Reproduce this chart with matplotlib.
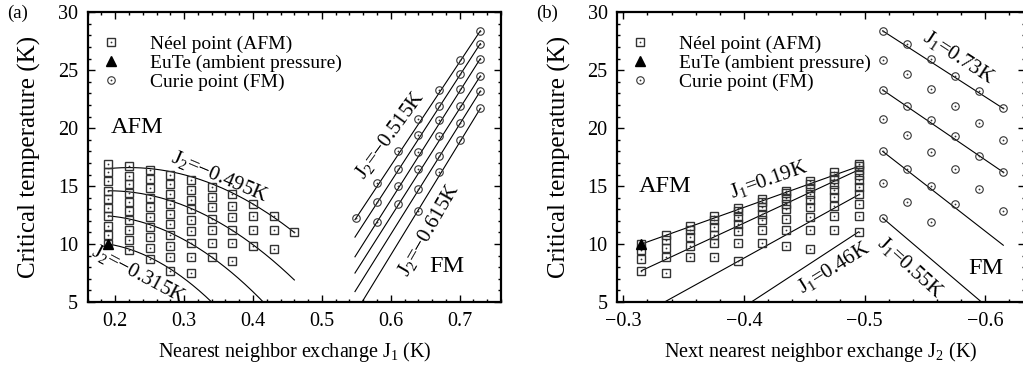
import numpy as np
import matplotlib
matplotlib.use('Agg')
import matplotlib.pyplot as plt
from matplotlib.ticker import MultipleLocator
from matplotlib.legend_handler import HandlerTuple

plt.rcParams['font.family'] = 'Liberation Serif'
plt.rcParams['mathtext.fontset'] = 'custom'
plt.rcParams['mathtext.rm'] = 'Liberation Serif'
plt.rcParams['mathtext.it'] = 'Liberation Serif:italic'

nan = np.nan

# Neel temperatures (AFM): rows = J1, columns = J2
j1_afm = [0.19, 0.22, 0.25, 0.28, 0.31, 0.34, 0.37, 0.40, 0.43, 0.46]
j2_afm = [-0.315, -0.335, -0.355, -0.375, -0.395, -0.415, -0.435, -0.455, -0.475, -0.495]
tn = np.array([
    [10.0, 10.8, 11.6, 12.4, 13.1, 13.9, 14.6, 15.4, 16.2, 16.9],
    [9.45, 10.35, 11.25, 12.05, 12.85, 13.6, 14.4, 15.15, 15.9, 16.7],
    [8.75, 9.65, 10.6, 11.45, 12.3, 13.2, 14.0, 14.8, 15.6, 16.35],
    [7.65, 8.85, 9.85, 10.8, 11.7, 12.6, 13.5, 14.3, 15.2, 16.0],
    [nan, 7.5, 8.9, 10.1, 11.1, 12.1, 13.0, 13.8, 14.7, 15.5],
    [nan, nan, nan, 8.9, 10.1, 11.2, 12.2, 13.2, 14.1, 14.9],
    [nan, nan, nan, nan, 8.5, 10.05, 11.2, 12.3, 13.3, 14.3],
    [nan, nan, nan, nan, nan, nan, 9.85, 11.2, 12.4, 13.5],
    [nan, nan, nan, nan, nan, nan, nan, 9.55, 11.2, 12.4],
    [nan, nan, nan, nan, nan, nan, nan, nan, nan, 11.0],
])

# Curie temperatures (FM): rows = J1, columns = J2
j1_fm = [0.55, 0.58, 0.61, 0.64, 0.67, 0.70, 0.73]
j2_fm = [-0.515, -0.535, -0.555, -0.575, -0.595, -0.615]
tc = np.array([
    [12.25, nan, nan, nan, nan, nan],
    [15.25, 13.6, 11.9, nan, nan, nan],
    [18.0, 16.5, 15.0, 13.45, nan, nan],
    [20.8, 19.45, 17.95, 16.45, 14.75, 12.85],
    [23.3, 21.9, 20.7, 19.3, 17.6, 16.2],
    [25.9, 24.7, 23.4, 21.9, 20.45, 19.0],
    [28.4, 27.3, 26.0, 24.5, 23.2, 21.7],
])

# EuTe at ambient pressure
eute_j1, eute_j2, eute_t = 0.19, -0.315, 10.0

# fitted curves, panel (a), AFM side: T at sample J1 values
curve_j2 = [-0.495, -0.435, -0.375, -0.315]
curve_x = [0.19, 0.28, 0.37, 0.46]
curve_t = [
    [16.51, 16.25, 14.42, 11.0],
    [14.6, 13.74, 11.18, 6.9],
    [12.43, 10.97, 7.49, 1.99],
    [10.0, 7.85, 3.14, -4.14],
]

# fitted lines, panel (a), FM side (one per J2 in j2_fm)
fm_line_x = [0.548, 0.73]
fm_line_t = [[12.1, 28.4], [10.6, 27.3], [8.9, 26.0], [7.5, 24.5], [5.9, 23.2], [4.0, 21.7]]

# fitted lines, panel (b)
afm_line_j1 = [0.19, 0.28, 0.37, 0.46]
afm_line_x = [-0.315, -0.495]
afm_line_t = [[10.0, 16.7], [7.7, 16.4], [3.9, 14.25], [-1.2, 11.05]]
fmb_line_j1 = [0.73, 0.67, 0.61, 0.55]
fmb_line_x = [-0.515, -0.615]
fmb_line_t = [[28.4, 21.7], [23.3, 16.2], [18.0, 9.9], [12.25, 3.4]]

W, H = 1023, 368
fig = plt.figure(figsize=(W / 100, H / 100), dpi=100)
ax_a = fig.add_axes([87.7 / W, 66 / H, 413.3 / W, 289.7 / H])
ax_b = fig.add_axes([617.3 / W, 66 / H, 407.7 / W, 289.7 / H])

sq = dict(marker='s', ls='none', mfc='none', mec='#333333', ms=6.4, mew=1.0)
sqdot = dict(marker='o', ls='none', mfc='#333333', mec='none', ms=1.3)
ci = dict(marker='o', ls='none', mfc='none', mec='#333333', ms=5.4, mew=0.8)
tri = dict(marker='^', ls='none', color='black', ms=7.5)
line_kw = dict(color='black', lw=0.8)


def style(ax):
    for s in ax.spines.values():
        s.set_linewidth(1.6)
    ax.set_ylim(5, 30)
    ax.yaxis.set_major_locator(MultipleLocator(5))
    ax.yaxis.set_minor_locator(MultipleLocator(1))
    ax.xaxis.set_major_locator(MultipleLocator(0.1))
    ax.xaxis.set_minor_locator(MultipleLocator(0.02))
    ax.tick_params(which='both', direction='in', top=True, right=True,
                   labelsize=14.5, pad=7, width=1.0)
    ax.tick_params(which='major', length=5)
    ax.tick_params(which='minor', length=2.5)
    ax.set_ylabel('Critical temperature (K)', fontsize=18, labelpad=12)


def add_legend(ax, x0):
    h1 = ax.plot([], [], **sq)[0]
    h1d = ax.plot([], [], **sqdot)[0]
    h2 = ax.plot([], [], **tri)[0]
    h3 = ax.plot([], [], **ci)[0]
    h3d = ax.plot([], [], **sqdot)[0]
    ax.legend([(h1, h1d), h2, (h3, h3d)],
              ['Néel point (AFM)', 'EuTe (ambient pressure)', 'Curie point (FM)'],
              handler_map={tuple: HandlerTuple(ndivide=1)},
              loc='upper left', bbox_to_anchor=(x0, 0.922), frameon=False,
              fontsize=14, handlelength=1.0, handletextpad=1.5,
              borderpad=0, borderaxespad=0, labelspacing=0.08)


# ---------- panel (a): versus J1 ----------
ax = ax_a
style(ax)
ax.set_xlim(0.16, 0.76)
J1g, J2g = np.meshgrid(j1_afm, j2_afm, indexing='ij')
xs = np.linspace(curve_x[0], curve_x[-1], 200)
for t in curve_t:
    p = np.polyfit(curve_x, t, 2)
    ax.plot(xs, np.polyval(p, xs), **line_kw)
for t in fm_line_t:
    ax.plot(fm_line_x, t, **line_kw)
ax.plot(J1g.ravel(), tn.ravel(), **sq)
ax.plot(J1g.ravel(), tn.ravel(), **sqdot)
F1g, F2g = np.meshgrid(j1_fm, j2_fm, indexing='ij')
ax.plot(F1g.ravel(), tc.ravel(), **ci)
ax.plot(F1g.ravel(), tc.ravel(), **sqdot)
ax.plot([eute_j1], [eute_t], **tri)
ax.set_xlabel('Nearest neighbor exchange J$_\\mathrm{1}$ (K)', fontsize=14.5, labelpad=7)
ax.text(0.352, 15.8, 'J$_\\mathrm{2}$=\u22120.495K', rotation=-23, ha='center', va='center', fontsize=15)
ax.text(0.234, 7.4, 'J$_\\mathrm{2}$=\u22120.315K', rotation=-28, ha='center', va='center', fontsize=15)
ax.text(0.599, 19.4, 'J$_\\mathrm{2}$=\u22120.515K', rotation=54, ha='center', va='center', fontsize=15)
ax.text(0.655, 11.2, 'J$_\\mathrm{2}$=\u22120.615K', rotation=60, ha='center', va='center', fontsize=15)
ax.text(0.232, 20.1, 'AFM', ha='center', va='center', fontsize=17.5)
ax.text(0.682, 8.05, 'FM', ha='center', va='center', fontsize=17.5)
add_legend(ax, 0.034)

# ---------- panel (b): versus J2 ----------
ax = ax_b
style(ax)
ax.set_xlim(-0.295, -0.633)
for t in afm_line_t:
    ax.plot(afm_line_x, t, **line_kw)
for t in fmb_line_t:
    ax.plot(fmb_line_x, t, **line_kw)
ax.plot(J2g.ravel(), tn.ravel(), **sq)
ax.plot(J2g.ravel(), tn.ravel(), **sqdot)
ax.plot(F2g.ravel(), tc.ravel(), **ci)
ax.plot(F2g.ravel(), tc.ravel(), **sqdot)
ax.plot([eute_j2], [eute_t], **tri)
ax.set_xlabel('Next nearest neighbor exchange J$_\\mathrm{2}$ (K)', fontsize=14.5, labelpad=7)
ax.text(-0.4206, 15.6, 'J$_\\mathrm{1}$=0.19K', rotation=19.5, ha='center', va='center', fontsize=15)
ax.text(-0.4743, 7.95, 'J$_\\mathrm{1}$=0.46K', rotation=32, ha='center', va='center', fontsize=15)
ax.text(-0.5785, 26.07, 'J$_\\mathrm{1}$=0.73K', rotation=-33, ha='center', va='center', fontsize=15)
ax.text(-0.538, 8.0, 'J$_\\mathrm{1}$=0.55K', rotation=-42, ha='center', va='center', fontsize=15)
ax.text(-0.335, 14.96, 'AFM', ha='center', va='center', fontsize=17.5)
ax.text(-0.6005, 7.9, 'FM', ha='center', va='center', fontsize=17.5)
add_legend(ax, 0.033)

fig.text(18 / W, 1 - 13 / H, '(a)', ha='center', va='center', fontsize=13.5)
fig.text(547 / W, 1 - 13 / H, '(b)', ha='center', va='center', fontsize=13.5)

fig.savefig('out.png', dpi=100)
